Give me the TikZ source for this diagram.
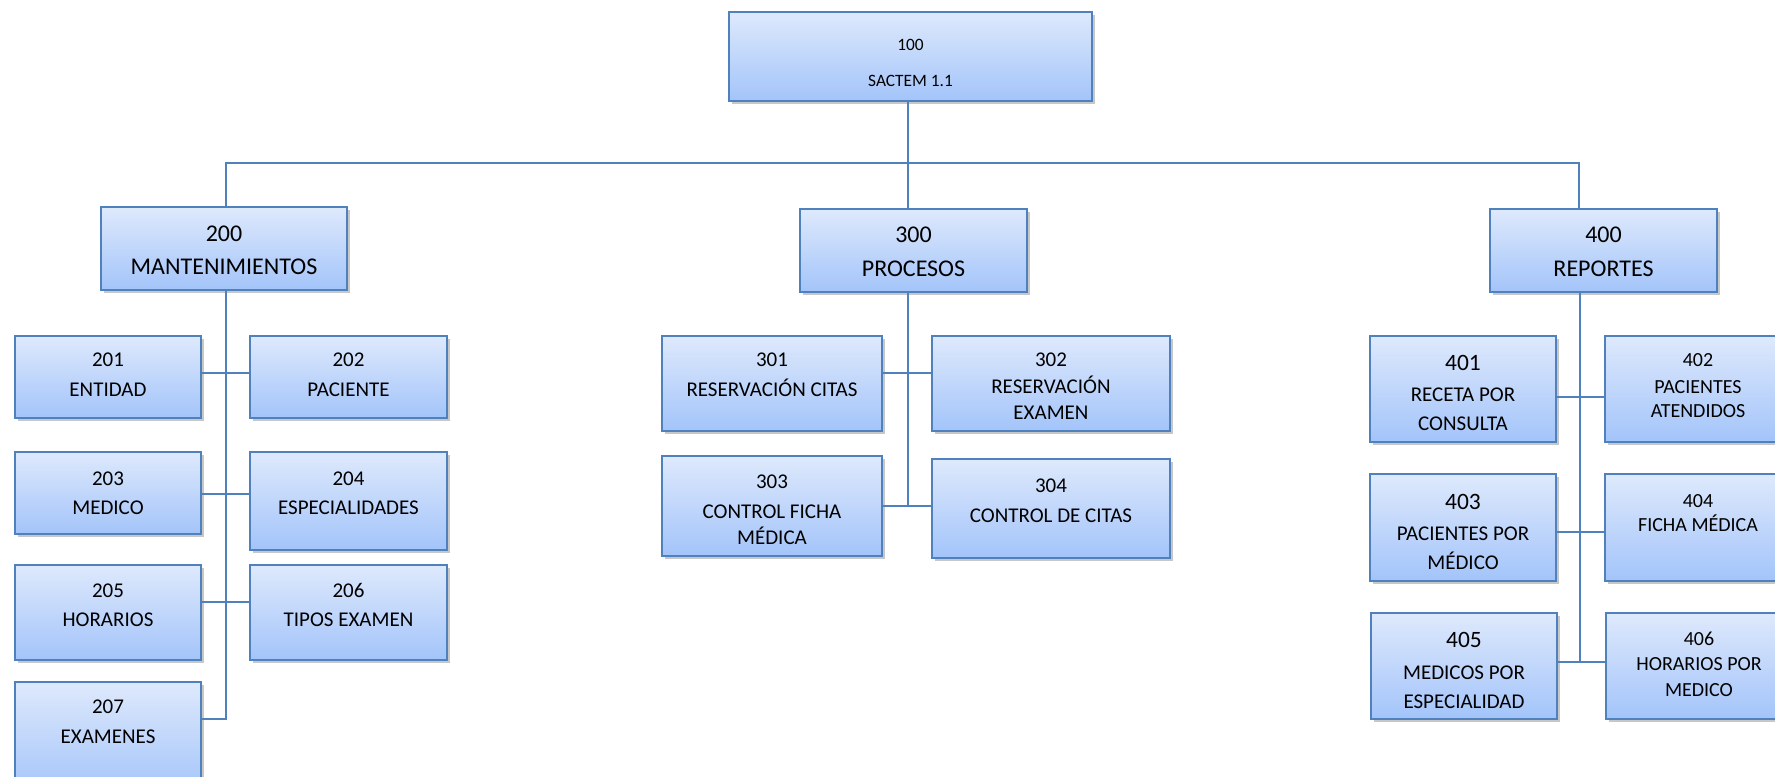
\documentclass[tikz,border=0pt]{standalone}
\usepackage{fontspec}
\setmainfont{Carlito}
\usetikzlibrary{fit,shadows}
\definecolor{bordc}{RGB}{79,129,189}
\definecolor{topc}{RGB}{222,233,252}
\definecolor{botc}{RGB}{163,196,250}
\tikzset{
  box/.style={draw=bordc, line width=1.5pt, top color=topc, bottom color=botc,
    inner sep=0pt, drop shadow={shadow xshift=2pt, shadow yshift=-2.2pt, opacity=0.22, fill=black}},
  conn/.style={draw=bordc, line width=1.4pt},
  lbl/.style={anchor=base, inner sep=0pt, text=black},
  fone/.style={lbl, font=\fontsize{13}{15}\selectfont},
  ftwo/.style={lbl, font=\fontsize{18}{21}\selectfont},
  fthree/.style={lbl, font=\fontsize{15.75}{18}\selectfont},
  fbig/.style={lbl, font=\fontsize{17.6}{20}\selectfont},
  fsmall/.style={lbl, font=\fontsize{15}{17}\selectfont}
}
\begin{document}
\begin{tikzpicture}[x=0.75pt,y=-0.75pt]
\useasboundingbox (0,0) rectangle (1775,777);
\clip (0,0) rectangle (1775,777);
\fill[white] (0,0) rectangle (1775,777);

% junction coordinates
\coordinate (jT) at (908,163);
\coordinate (jL) at (226,163);
\coordinate (jR) at (1579,163);
\coordinate (e2) at (226,719);
\coordinate (h21) at (226,373);
\coordinate (h23) at (226,494);
\coordinate (h25) at (226,602);
\coordinate (e3) at (908,506);
\coordinate (h31) at (908,373);
\coordinate (e4) at (1580,662);
\coordinate (h41) at (1580,397);
\coordinate (h43) at (1580,532);

% boxes
\node[box, fit={(729,12) (1092,101)}] (b100) {};
\node[box, fit={(101,207) (347,290)}] (b200) {};
\node[box, fit={(800,209) (1027,292)}] (b300) {};
\node[box, fit={(1490,209) (1717,292)}] (b400) {};

\node[box, fit={(15,336) (201,418)}] (b201) {};
\node[box, fit={(250,336) (447,418)}] (b202) {};
\node[box, fit={(15,452) (201,534)}] (b203) {};
\node[box, fit={(250,452) (447,550)}] (b204) {};
\node[box, fit={(15,565) (201,660)}] (b205) {};
\node[box, fit={(250,565) (447,660)}] (b206) {};
\node[box, fit={(15,682) (201,795)}] (b207) {};

\node[box, fit={(662,336) (882,431)}] (b301) {};
\node[box, fit={(932,336) (1170,431)}] (b302) {};
\node[box, fit={(662,456) (882,556)}] (b303) {};
\node[box, fit={(932,459) (1170,558)}] (b304) {};

\node[box, fit={(1370,336) (1556,442)}] (b401) {};
\node[box, fit={(1605,336) (1791,442)}] (b402) {};
\node[box, fit={(1370,474) (1556,581)}] (b403) {};
\node[box, fit={(1605,474) (1791,581)}] (b404) {};
\node[box, fit={(1371,613) (1557,719)}] (b405) {};
\node[box, fit={(1606,613) (1792,719)}] (b406) {};

% connectors
\draw[conn] (b100.south -| jT) -- (b300.north -| jT);
\draw[conn] (b200.north -| jL) -- (jL) -- (jR) -- (b400.north -| jR);
\draw[conn] (b200.south -| e2) -- (e2) -- (b207.east |- e2);
\draw[conn] (b201.east |- h21) -- (b202.west |- h21);
\draw[conn] (b203.east |- h23) -- (b204.west |- h23);
\draw[conn] (b205.east |- h25) -- (b206.west |- h25);
\draw[conn] (b300.south -| e3) -- (e3);
\draw[conn] (b301.east |- h31) -- (b302.west |- h31);
\draw[conn] (b303.east |- e3) -- (b304.west |- e3);
\draw[conn] (b400.south -| e4) -- (e4);
\draw[conn] (b401.east |- h41) -- (b402.west |- h41);
\draw[conn] (b403.east |- h43) -- (b404.west |- h43);
\draw[conn] (b405.east |- e4) -- (b406.west |- e4);

% texts
\node[fone] (t100a) at (910.5,51) {100};
\node[fone] (t100b) at (910.5,87) {SACTEM 1.1};
\node[ftwo] (t200a) at (224,242) {200};
\node[ftwo] (t200b) at (224,275) {MANTENIMIENTOS};
\node[ftwo] (t300a) at (913.5,243) {300};
\node[ftwo] (t300b) at (913.5,277) {PROCESOS};
\node[ftwo] (t400a) at (1603.5,243) {400};
\node[ftwo] (t400b) at (1603.5,277) {REPORTES};

\node[fthree] (t201a) at (108,367) {201};
\node[fthree] (t201b) at (108,397) {ENTIDAD};
\node[fthree] (t202a) at (348.5,367) {202};
\node[fthree] (t202b) at (348.5,397) {PACIENTE};
\node[fthree] (t203a) at (108,485) {203};
\node[fthree] (t203b) at (108,514) {MEDICO};
\node[fthree] (t204a) at (348.5,485) {204};
\node[fthree] (t204b) at (348.5,514) {ESPECIALIDADES};
\node[fthree] (t205a) at (108,597) {205};
\node[fthree] (t205b) at (108,626) {HORARIOS};
\node[fthree] (t206a) at (348.5,597) {206};
\node[fthree] (t206b) at (348.5,626) {TIPOS EXAMEN};
\node[fthree] (t207a) at (108,713) {207};
\node[fthree] (t207b) at (108,743) {EXAMENES};

\node[fthree] (t301a) at (772,367) {301};
\node[fthree] (t301b) at (772,397) {RESERVACIÓN CITAS};
\node[fthree] (t302a) at (1051,367) {302};
\node[fthree] (t302b) at (1051,393) {RESERVACIÓN};
\node[fthree] (t302c) at (1051,419) {EXAMEN};
\node[fthree] (t303a) at (772,488) {303};
\node[fthree] (t303b) at (772,518) {CONTROL FICHA};
\node[fthree] (t303c) at (772,544) {MÉDICA};
\node[fthree] (t304a) at (1051,492) {304};
\node[fthree] (t304b) at (1051,522) {CONTROL DE CITAS};

\node[fbig] (t401a) at (1463,370) {401};
\node[fthree] (t401b) at (1463,402) {RECETA POR};
\node[fthree] (t401c) at (1463,431) {CONSULTA};
\node[fsmall] (t402a) at (1698,367) {402};
\node[fsmall] (t402b) at (1698,393) {PACIENTES};
\node[fsmall] (t402c) at (1698,417) {ATENDIDOS};
\node[fbig] (t403a) at (1463,509) {403};
\node[fthree] (t403b) at (1463,540) {PACIENTES POR};
\node[fthree] (t403c) at (1463,569) {MÉDICO};
\node[fsmall] (t404a) at (1698,507) {404};
\node[fsmall] (t404b) at (1698,531) {FICHA MÉDICA};
\node[fbig] (t405a) at (1464,647) {405};
\node[fthree] (t405b) at (1464,679) {MEDICOS POR};
\node[fthree] (t405c) at (1464,708) {ESPECIALIDAD};
\node[fsmall] (t406a) at (1699,645) {406};
\node[fsmall] (t406b) at (1699,670) {HORARIOS POR};
\node[fsmall] (t406c) at (1699,696) {MEDICO};
\end{tikzpicture}
\end{document}
